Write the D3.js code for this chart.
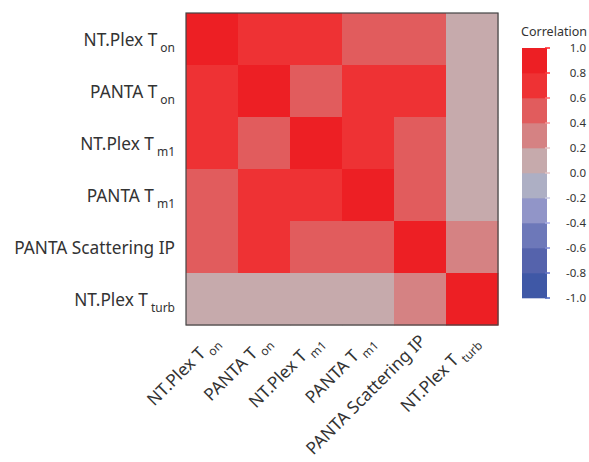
<!DOCTYPE html>
<html>
<head>
<meta charset="utf-8">
<script src="https://cdn.jsdelivr.net/npm/d3@7"></script>
<style>
  body { margin: 0; background: #fff; }
  svg { display: block; }
  text { font-family: "Noto Sans", sans-serif; fill: #333; }
</style>
</head>
<body>
<svg id="corr" width="589" height="462"></svg>
<script>
/*** DATA ***/
var names = ["NT.Plex T", "PANTA T", "NT.Plex T", "PANTA T", "PANTA Scattering IP", "NT.Plex T"];
var subs  = ["on", "on", "m1", "m1", "", "turb"];

var corr_rows = [
    [1.0, 0.7, 0.7, 0.5, 0.5, 0.1],
    [0.7, 1.0, 0.5, 0.7, 0.7, 0.1],
    [0.7, 0.5, 1.0, 0.7, 0.5, 0.1],
    [0.5, 0.7, 0.7, 1.0, 0.5, 0.1],
    [0.5, 0.7, 0.5, 0.5, 1.0, 0.3],
    [0.1, 0.1, 0.1, 0.1, 0.3, 1.0]
];

// bin colours, from -1 up to 1
var bin_colors = ["#3f58a6", "#5563ac", "#6d78b9", "#9195c8", "#adafc4",
                  "#c6aaac", "#d58283", "#e15c5d", "#ee3234", "#ed1f24"];
var legend_ticks = [1.0, 0.8, 0.6, 0.4, 0.2, 0.0, -0.2, -0.4, -0.6, -0.8, -1.0];

/*** SETUP ***/
var svg = d3.select('#corr');
var grid = {left: 186, top: 13, size: 312};

var x = d3.scaleBand().domain(d3.range(names.length)).range([grid.left, grid.left + grid.size]);
var y = d3.scaleBand().domain(d3.range(names.length)).range([grid.top, grid.top + grid.size]);
var color = d3.scaleQuantize().domain([-1, 1]).range(bin_colors);

/*** CELLS ***/
var cells = [];
corr_rows.forEach(function(row, i) {
    row.forEach(function(v, j) { cells.push({r: i, c: j, v: v}); });
});

svg.append('g').selectAll('rect')
    .data(cells)
    .join('rect')
    .attr('x', function(d) { return x(d.c); })
    .attr('y', function(d) { return y(d.r); })
    .attr('width', x.bandwidth() + 0.5)
    .attr('height', y.bandwidth() + 0.5)
    .attr('fill', function(d) { return color(d.v); });

svg.append('rect')
    .attr('x', grid.left).attr('y', grid.top)
    .attr('width', grid.size).attr('height', grid.size)
    .attr('fill', 'none').attr('stroke', '#444').attr('stroke-width', 1.2);

/*** LABELS ***/
// pick a font size so the longest label is about as wide as in the original
var probe = svg.append('text').style('font-size', '20px').text(names[4]);
var label_size = 20 * 161 / probe.node().getComputedTextLength();
probe.remove();

function add_label(sel, i) {
    sel.append('tspan').text(names[i]);
    if (subs[i]) {
        sel.append('tspan')
            .attr('dx', 3).attr('dy', 6)
            .style('font-size', '12px')
            .text(subs[i]);
    }
}

names.forEach(function(n, i) {
    add_label(svg.append('text')
        .attr('x', 175)
        .attr('y', y(i) + y.bandwidth() / 2 + 7)
        .attr('text-anchor', 'end')
        .style('font-size', label_size + 'px'), i);

    var cx = x(i) + x.bandwidth() / 2 + 7;
    add_label(svg.append('text')
        .attr('transform', 'translate(' + cx + ',342) rotate(-45)')
        .attr('text-anchor', 'end')
        .style('font-size', label_size + 'px'), i);
});

/*** LEGEND ***/
var lg = {left: 522, top: 48, width: 25, height: 250};
var ly = d3.scaleLinear().domain([1, -1]).range([lg.top, lg.top + lg.height]);

svg.append('text')
    .attr('x', 554).attr('y', 36)
    .attr('text-anchor', 'middle')
    .style('font-size', '12.5px')
    .text('Correlation');

svg.append('g').selectAll('rect')
    .data(d3.range(bin_colors.length))
    .join('rect')
    .attr('x', lg.left)
    .attr('y', function(k) { return ly(-1 + (k + 1) * 0.2); })
    .attr('width', lg.width)
    .attr('height', ly(0) - ly(0.2) + 0.3)
    .attr('fill', function(k) { return bin_colors[k]; });

svg.append('g').selectAll('line')
    .data(legend_ticks)
    .join('line')
    .attr('x1', lg.left + lg.width - 2)
    .attr('x2', lg.left + lg.width + 3)
    .attr('y1', function(d) { return ly(d); })
    .attr('y2', function(d) { return ly(d); })
    .attr('stroke', function(d) { return d3.color(color(d > 0 ? d - 0.01 : d + 0.01)).brighter(0.4); })
    .attr('stroke-width', 1.5);

svg.append('g').selectAll('text')
    .data(legend_ticks)
    .join('text')
    .attr('x', 586)
    .attr('y', function(d) { return ly(d) + 4; })
    .attr('text-anchor', 'end')
    .style('font-size', '11.5px')
    .text(function(d) { return d.toFixed(1); });
</script>
</body>
</html>
